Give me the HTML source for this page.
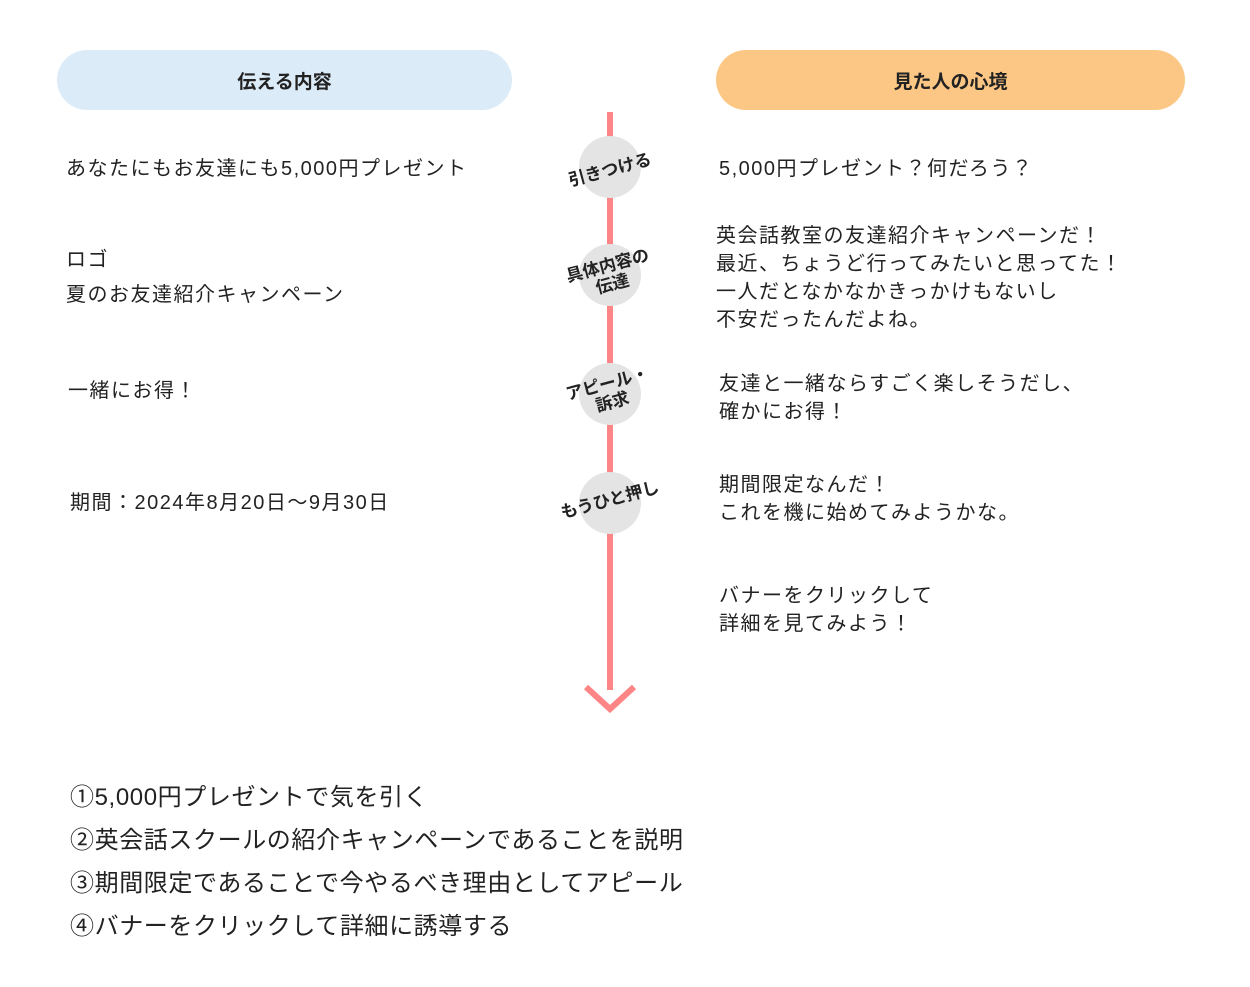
<!DOCTYPE html>
<html><head><meta charset="utf-8"><style>
body{margin:0;width:1250px;height:987px;background:#fff;position:relative;overflow:hidden;font-family:"Liberation Sans","Noto Sans CJK JP",sans-serif;color:#222}
.a{position:absolute;white-space:nowrap}
.t{font-size:20px;letter-spacing:1.5px;line-height:28px}
.pill{position:absolute;border-radius:30px;display:flex;align-items:center;justify-content:center;font-weight:bold;font-size:19px}
.c{position:absolute;width:62px;height:62px;border-radius:50%;background:#e4e4e4;left:579px}
.cl{position:absolute;left:610px;transform:translate(-50%,-50%) rotate(-15deg);font-size:17px;font-weight:bold;line-height:19px;text-align:center;white-space:nowrap;color:#222}
.b{font-size:24px;line-height:43px;letter-spacing:0.6px}
</style></head><body>
<div class="pill" style="left:57px;top:50px;width:455px;height:60px;background:#dcebf8">伝える内容</div>
<div class="pill" style="left:716px;top:50px;width:469px;height:60px;background:#fcc784">見た人の心境</div>

<div class="a" style="left:607px;top:112px;width:6px;height:578px;background:#fd8585"></div>
<svg class="a" style="left:580px;top:670px" width="60" height="45"><polyline points="6,17 30,39 54,17" fill="none" stroke="#fd8585" stroke-width="6"/></svg>

<div class="c" style="top:136px"></div>
<div class="c" style="top:244px"></div>
<div class="c" style="top:363px"></div>
<div class="c" style="top:472px"></div>
<div class="cl" style="top:170px">引きつける</div>
<div class="cl" style="top:275px">具体内容の<br>伝達</div>
<div class="cl" style="top:393px">アピール・<br>訴求</div>
<div class="cl" style="top:500px">もうひと押し</div>

<div class="a t" style="left:66px;top:155px">あなたにもお友達にも5,000円プレゼント</div>
<div class="a t" style="left:66px;top:246px">ロゴ</div>
<div class="a t" style="left:66px;top:281px">夏のお友達紹介キャンペーン</div>
<div class="a t" style="left:68px;top:377px">一緒にお得！</div>
<div class="a t" style="left:70px;top:489px">期間：2024年8月20日〜9月30日</div>

<div class="a t" style="left:719px;top:155px">5,000円プレゼント？何だろう？</div>
<div class="a t" style="left:716px;top:222px">英会話教室の友達紹介キャンペーンだ！<br>最近、ちょうど行ってみたいと思ってた！<br>一人だとなかなかきっかけもないし<br>不安だったんだよね。</div>
<div class="a t" style="left:719px;top:370px">友達と一緒ならすごく楽しそうだし、<br>確かにお得！</div>
<div class="a t" style="left:719px;top:471px">期間限定なんだ！<br>これを機に始めてみようかな。</div>
<div class="a t" style="left:719px;top:582px">バナーをクリックして<br>詳細を見てみよう！</div>

<div class="a b" style="left:70px;top:776px">①5,000円プレゼントで気を引く<br>②英会話スクールの紹介キャンペーンであることを説明<br>③期間限定であることで今やるべき理由としてアピール<br>④バナーをクリックして詳細に誘導する</div>
</body></html>
